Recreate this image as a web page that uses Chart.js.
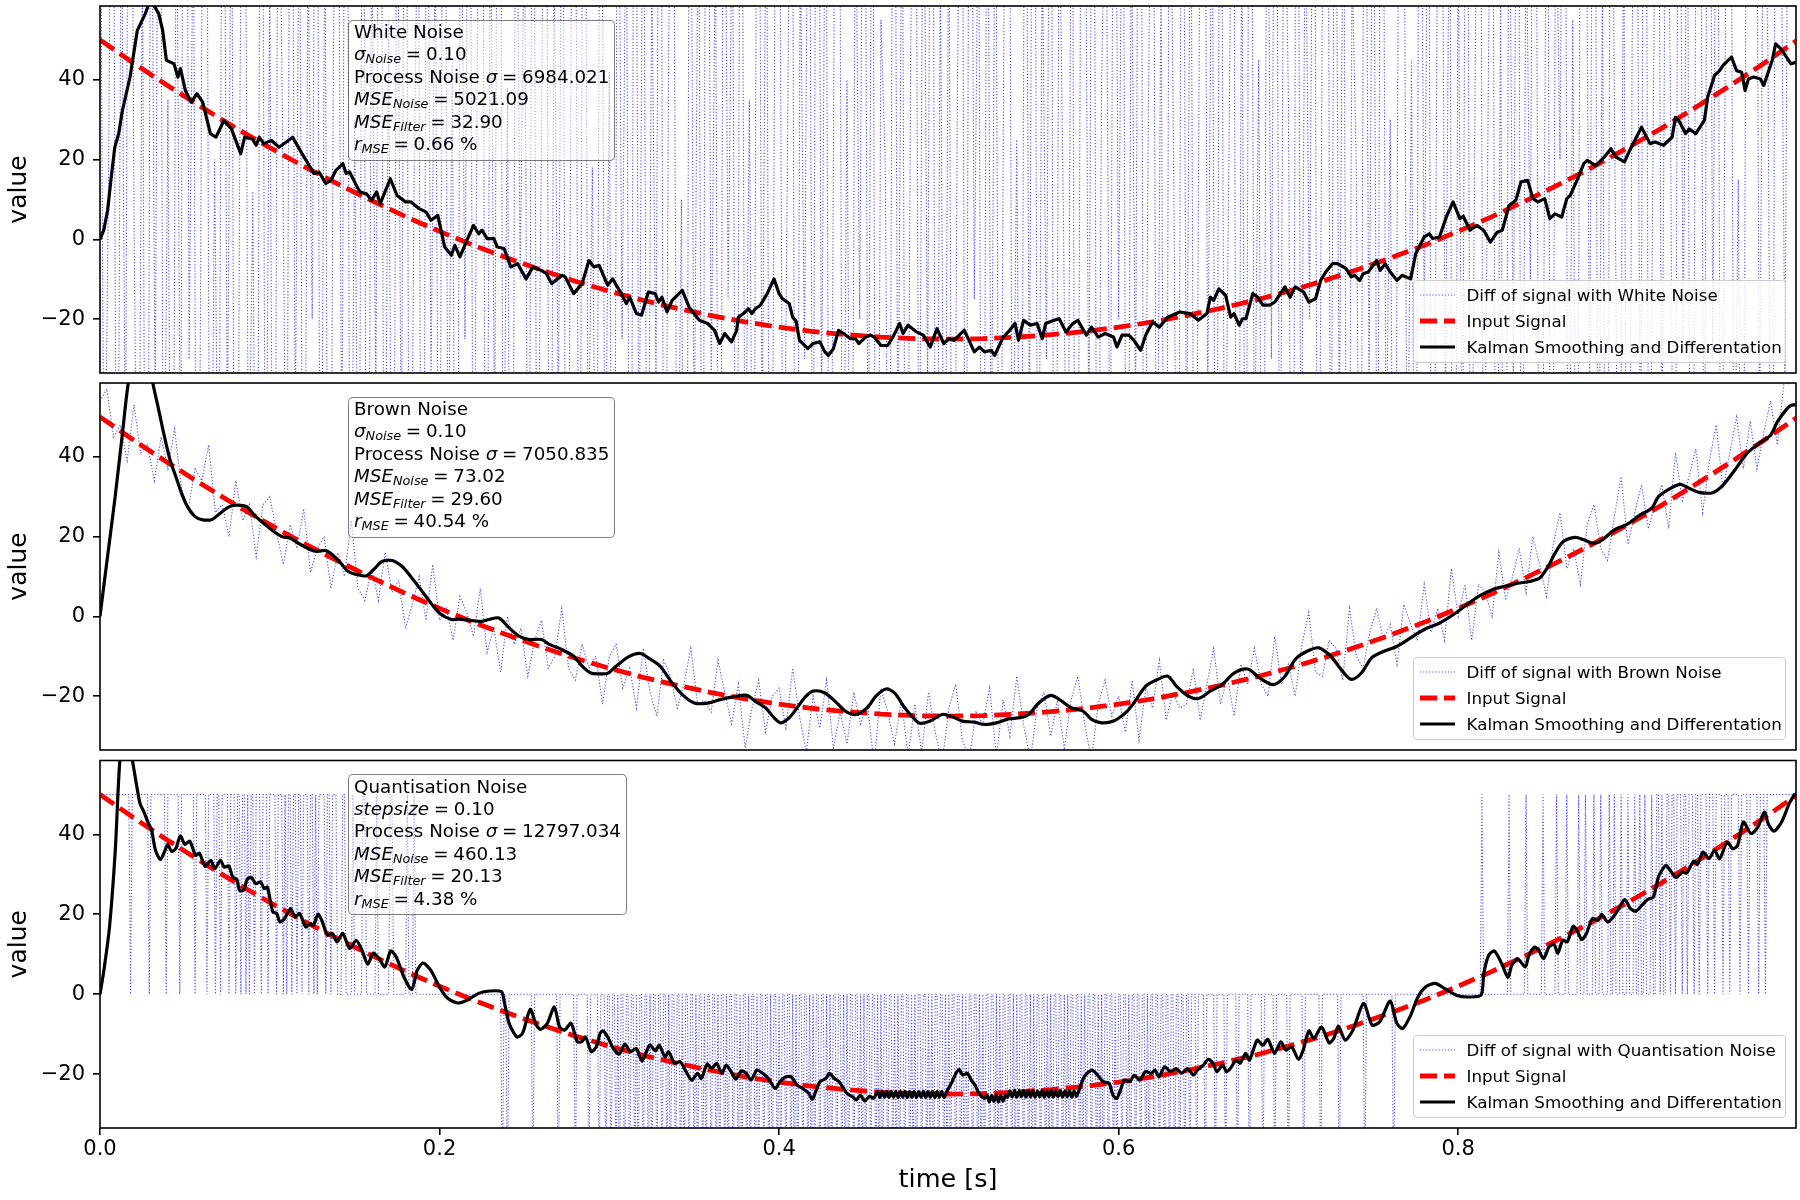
<!DOCTYPE html>
<html>
<head>
<meta charset="utf-8">
<script src="https://cdn.jsdelivr.net/npm/chart.js@4.4.1/dist/chart.umd.min.js"></script>
<style>
  body { margin: 0; background: #fff; }
  #fig { position: relative; width: 1800px; height: 1200px; font-family: 'DejaVu Sans'; color: #000; }
  #fig canvas { position: absolute; left: 0; }
  .info { position: absolute; left: 348px; padding: 0.5px 5px 4.5px 5px; border: 1.4px solid rgba(0,0,0,0.5);
          border-radius: 5px; background: rgba(255,255,255,0.5); font: 18.3px 'DejaVu Sans'; line-height: 22.4px; white-space: nowrap; }
  .info sub { font-size: 70%; line-height: 0; vertical-align: -0.25em; font-style: italic; }
  .info .eq { margin: 0 0.26em; }
  .legend { position: absolute; left: 1413px; width: 373px; height: 83px; box-sizing: border-box; border: 1.5px solid #cccccc;
            border-radius: 4px; background: rgba(255,255,255,0.8); font: 16.7px 'DejaVu Sans'; }
  .legend .row { position: absolute; left: 0; width: 100%; height: 26px; line-height: 26px; white-space: nowrap; }
  .legend svg { position: absolute; left: 4.5px; top: 8px; }
  .legend span { position: absolute; left: 52.5px; }
</style>
</head>
<body>
<div id="fig">
  <canvas id="white" width="1800" height="390" style="top:0px;width:1800px;height:390px"></canvas>
  <canvas id="brown" width="1800" height="390" style="top:377px;width:1800px;height:390px"></canvas>
  <canvas id="quant" width="1800" height="446" style="top:754px;width:1800px;height:446px"></canvas>
</div>
<script>
const timeTicks = [0, 0.2, 0.4, 0.6, 0.8];
const valueTicks = [-20, 0, 20, 40];

const panelTitles = ['White Noise', 'Brown Noise', 'Quantisation Noise'];
const noiseParamLabels = ['<i>σ</i><sub>Noise</sub>', '<i>σ</i><sub>Noise</sub>', '<i>stepsize</i>'];
const noiseParamValues = ['0.10', '0.10', '0.10'];
const processSigmas = ['6984.021', '7050.835', '12797.034'];
const mseNoise = ['5021.09', '73.02', '460.13'];
const mseFilter = ['32.90', '29.60', '20.13'];
const rMse = ['0.66', '40.54', '4.38'];
const diffLabels = ['Diff of signal with White Noise', 'Diff of signal with Brown Noise', 'Diff of signal with Quantisation Noise'];

// input signal, sampled every 0.02 s
const inputStep = 0.02;
const inputSignal = [50, 44.1, 38.5, 33.1, 27.9, 23, 18.3, 13.9, 9.7, 5.7, 2, -1.5, -4.7, -7.7, -10.5, -13, -15.3, -17.3, -19.1, -20.7,
  -22, -23.1, -23.9, -24.5, -24.9, -25, -24.9, -24.5, -23.9, -23.1, -22, -20.7, -19.1, -17.3, -15.3, -13, -10.5, -7.7, -4.7, -1.5,
  2, 5.7, 9.7, 13.9, 18.3, 23, 27.9, 33.1, 38.5, 44.1, 50];

// white noise diff, every 0.0025 s (mostly off the axis)
const whiteStep = 0.0025;
const whiteDiff = [
  120, -85, 14, 160, -140, 95, -60, 210, 8, -110,
  75, -190, 130, -45, 180, -95, 35, -150, 105, -70,
  240, -30, 90, -175, 60, 145, -120, 20, -88, 170,
  -55, 110, -200, 40, 155, -75, 12, -135, 200, -100,
  65, -160, 125, 28, -90, 185, -50, 100, -145, 72,
  -20, 165, -115, 88, -180, 48, 135, -65, 210, -125,
  30, -95, 150, -170, 82, -40, 190, -110, 55, -150,
  118, -62, 175, -135, 15, 98, -190, 140, -35, 80,
  -128, 205, -70, 45, -160, 115, -25, 170, -100, 60,
  150, -140, 92, -55, 230, -85, 38, -175, 125, -10,
  85, -120, 160, -95, 22, 180, -150, 70, -45, 135,
  -180, 55, 110, -130, 200, -60, 18, -105, 165, -80,
  42, -170, 140, -25, 95, -155, 185, -70, 120, -115,
  68, -35, 175, -145, 50, 130, -90, 10, -185, 155,
  -60, 100, -125, 215, -40, 80, -165, 145, -15, 90,
  -140, 170, -75, 35, -120, 190, -55, 105, -160, 60,
  125, -100, 25, 160, -180, 75, -30, 140, -95, 210,
  -45, 115, -150, 65, 180, -110, 40, -135, 95, -20,
  160, -70, 130, -175, 55, 20, -125, 185, -60, 100,
  -150, 45, 170, -90, 120, -40, 200, -145, 70, -105,
  88, -160, 35, 145, -120, 180, -15, 95, -185, 130,
  -65, 110, -140, 60, 175, -80, 25, -130, 150, -50,
  205, -115, 75, -30, 155, -170, 90, 5, -100, 140,
  -190, 60, 125, -55, 185, -135, 40, 100, -75, 165,
  -20, 130, -160, 85, -45, 215, -110, 30, 145, -95,
  70, -180, 120, 15, -135, 175, -60, 105, -150, 50,
  185, -40, 95, -125, 160, -85, 22, 140, -170, 80,
  -110, 200, -65, 45, -145, 125, -30, 170, -95, 110,
  35, -155, 180, -75, 90, -20, 150, -130, 60, 195,
  -90, 140, -50, 110, -175, 70, 18, -120, 165, -40,
  125, -100, 205, -60, 30, -150, 95, 160, -80, 45,
  -135, 185, -25, 120, -165, 55, 140, -45, 100, -190,
  75, -70, 170, -115, 40, 190, -95, 25, 150, -140,
  60, -180, 110, -35, 165, -125, 85, -10, 210, -75,
  -50, 135, -155, 95, 20, 175, -105, 55, -130, 160,
  115, -40, 185, -90, 65, -165, 145, 10, -120, 90,
  -175, 50, 125, -70, 200, -110, 35, 155, -60, 120,
  40, -145, 170, -25, 105, -185, 80, 135, -95, 220,
  -30, 150, -120, 60, 180, -80, 15, -160, 130, 70,
  190, -55, 110, 45, -140, 205, 95, -35, 160, 130
];

// brown noise diff, every 0.004 s
const brownStep = 0.004;
const brownDiff = [
  54, 57, 45, 48, 39, 53, 41, 43, 34, 45,
  37, 47, 32, 27, 37, 34, 43, 26, 28, 20,
  34, 24, 28, 15, 28, 30, 21, 13, 23, 17,
  27, 11, 17, 20, 7, 16, 10, 24, 7, 4,
  12, 4, 16, 6, 9, -3, 3, 10, -1, 13,
  -1, 2, -6, 5, 1, -5, 7, -9, -3, -14,
  0, -7, -3, -15, -6, -1, -13, -10, 2, -13,
  -16, -7, -13, -10, -22, -10, -7, -18, -13, -23,
  -8, -19, -25, -11, -15, -23, -17, -8, -22, -21,
  -24, -11, -19, -27, -17, -33, -23, -16, -29, -20,
  -18, -28, -13, -25, -34, -20, -28, -16, -33, -24,
  -32, -19, -27, -22, -37, -18, -24, -32, -21, -35,
  -22, -34, -19, -29, -37, -23, -17, -31, -36, -24,
  -27, -18, -35, -21, -30, -15, -27, -36, -23, -19,
  -30, -21, -33, -21, -15, -27, -36, -22, -16, -25,
  -20, -29, -16, -31, -18, -23, -11, -26, -19, -23,
  -22, -13, -26, -17, -8, -22, -15, -25, -12, -17,
  -8, -17, -20, -5, -17, -12, -20, -7, 1, -14,
  -15, -6, -8, -16, 2, -10, -13, -4, 2, -6,
  -2, -12, 3, -2, -6, 8, -4, 2, -6, 12,
  0, 8, -6, 8, 6, 0, 16, 4, 10, 17,
  6, 20, 13, 5, 18, 26, 12, 17, 8, 23,
  28, 17, 14, 25, 35, 18, 26, 33, 22, 28,
  33, 22, 41, 29, 35, 42, 26, 39, 48, 32,
  41, 50, 37, 49, 37, 46, 54, 43, 59, 58
];

// quantisation noise diff, one level per ms, written as runs (H=50, Z=0, L=-50, digit = run length)
const quantStep = 0.001;
const quantLevel = { H: 50, Z: 0, L: -50 };
const quantRuns = [
  'H18 Z H10 Z H9 Z H7 Z H8 Z H6 Z H4 Z H2 Z H4 Z H3 Z H2 Z H2 Z H Z H2 Z H3 Z H3 Z H4 Z H3 Z H Z H2 Z H2 Z H2 Z H3 Z H2 Z H Z H4 Z H2 Z H3',
  'Z3 H2 Z4 H Z5 H2 Z6 H Z7 H2 Z8 H Z3 H',
  'Z51',
  'L Z2 L Z14 L Z14 L Z9 L Z7 L Z5 L Z3',
  'L Z2 L Z2 L Z L Z2 L Z2 L Z2 L Z L Z2 L Z2 L Z',
  'L Z2 L Z2 L Z2 L Z L Z2 L Z2 L Z L Z2 L Z2 L Z',
  'L Z2 L Z L Z2 L Z2 L Z L Z2 L Z L Z2 L Z2 L Z',
  'L Z2 L Z L Z2 L Z L Z2 L Z2 L Z L Z2',
  'L Z L Z2 L Z2 L Z L Z L Z2 L Z2 L Z', 'L Z L Z2 L Z2 L Z L Z L Z2 L Z2 L Z',
  'L Z L Z2 L Z2 L Z L Z L Z2 L Z2 L Z', 'L Z L Z2 L Z2 L Z L Z L Z2 L Z2 L Z',
  'L Z L Z2 L Z2 L Z L Z L Z2 L Z2 L Z', 'L Z L Z2 L Z2 L Z L Z L Z2 L Z2 L Z',
  'L Z L Z2 L Z2 L Z L Z L Z2 L Z2 L Z', 'L Z L Z2 L Z2 L Z L Z L Z2 L Z2 L Z',
  'L Z L Z2 L Z2 L Z L Z L Z2 L Z2 L Z', 'L Z L Z2 L Z2 L Z L Z L Z2 L Z2 L Z',
  'L Z2 L Z2 L Z L Z2 L Z2 L Z2 L Z L Z2 L Z2 L Z2 L Z2 L Z2 L Z2 L Z2 L Z2 L Z3',
  'L Z4 L Z5 L Z5 L Z6 L Z6 L Z7 L Z6 L Z7 L Z8 L Z9 L Z10 L Z14 L Z16 L',
  'Z50',
  'Z H Z15 H Z9 H Z9 H Z7 H Z5 H Z6 H Z3 H Z4 H Z3 H Z4 H Z2 H Z3 H Z3 H Z3 H Z2 H Z2 H Z3',
  'H Z2 H2 Z H Z2 H2 Z H2 Z H3 Z H2 Z H3 Z H2 Z H4 Z H3 Z H4 Z H3 Z H5 Z H4 Z H5 Z H3 Z H18'
];

// Kalman smoothing outputs, [time, value]
const whiteKalman = [[0,0],[.0022,2.3],[.0045,7.3],[.0064,14.8],[.0087,23.1],[.011,26.5],[.0132,32.3],[.0177,40.7],[.022,52.4],[.0267,56.6],[.029,59.3],[.0312,59],[.0346,56.6],[.0369,52.4],[.0391,44.9],[.0436,44],[.0459,40.7],[.0474,42.8],[.0503,37.3],[.0537,34.4],[.0571,36.5],[.0605,34.4],[.065,26.5],[.0683,25.6],[.073,29.8],[.0774,27.7],[.0829,21.5],[.0852,25.6],[.0897,25.2],[.092,23.6],[.0938,25.6],[.0965,24],[.101,24.8],[.1055,23.1],[.1135,25.6],[.119,21.5],[.126,16.5],[.129,16.9],[.133,14],[.136,14.8],[.139,17.3],[.143,19],[.145,16.5],[.147,16.9],[.153,11.9],[.157,11.4],[.16,9.8],[.163,11.9],[.165,8.9],[.171,15.2],[.175,11],[.18,9.4],[.183,9.4],[.188,7.7],[.192,6.9],[.195,4.8],[.199,6],[.203,-1.9],[.207,-4],[.209,-1.5],[.212,-4.4],[.217,0.6],[.22,3.5],[.223,1.4],[.225,2.3],[.228,0.2],[.232,0.2],[.234,-1.9],[.238,-2.3],[.242,-6.9],[.246,-6.1],[.251,-9.9],[.255,-6.9],[.26,-7.8],[.263,-8.6],[.266,-11.1],[.272,-9],[.274,-9.4],[.279,-13.6],[.284,-11.1],[.288,-5.3],[.291,-6.9],[.294,-6.5],[.299,-11.5],[.302,-9.9],[.307,-13.6],[.31,-16.1],[.312,-14.5],[.316,-18.6],[.319,-19],[.323,-13.2],[.327,-13.6],[.329,-15.7],[.331,-14.5],[.334,-18.2],[.337,-15.3],[.343,-12.8],[.347,-17],[.353,-20.3],[.358,-21.1],[.362,-22.8],[.365,-26.1],[.368,-23.6],[.372,-25.7],[.375,-22.8],[.376,-19.5],[.379,-18.6],[.382,-17.4],[.384,-18.6],[.386,-17.4],[.389,-16.5],[.393,-13.6],[.397,-9.9],[.4,-13.6],[.402,-14.9],[.406,-16.1],[.408,-19.5],[.41,-20.5],[.412,-25.3],[.417,-27.4],[.42,-26.1],[.424,-25.7],[.427,-28.2],[.429,-29.1],[.432,-27.4],[.435,-22.8],[.438,-23.6],[.442,-24.9],[.445,-24.9],[.447,-26.1],[.451,-24.5],[.454,-24],[.456,-24.5],[.46,-26.6],[.464,-26.6],[.467,-24.5],[.471,-21.1],[.473,-23.6],[.476,-21.5],[.481,-23.2],[.485,-24],[.489,-27],[.493,-22.4],[.497,-26.1],[.5,-24.9],[.503,-25.3],[.509,-22.8],[.511,-24.5],[.515,-28.2],[.518,-27],[.521,-28.2],[.525,-27.8],[.527,-29.1],[.532,-24.5],[.535,-23.2],[.539,-21.1],[.541,-25.3],[.544,-20.3],[.548,-21.5],[.552,-21.1],[.555,-24.9],[.557,-21.1],[.562,-20.3],[.565,-19.9],[.569,-23.2],[.573,-21.1],[.576,-20.3],[.581,-24],[.584,-22],[.588,-24.5],[.592,-23.6],[.597,-24.5],[.599,-27],[.602,-24],[.606,-24],[.609,-25.3],[.613,-27.8],[.616,-24],[.62,-20.7],[.624,-22],[.629,-19.5],[.636,-18.2],[.642,-18.6],[.647,-20.3],[.652,-18.6],[.654,-14.5],[.656,-15.3],[.659,-12.4],[.663,-14],[.666,-19.5],[.668,-18.6],[.671,-21.5],[.673,-19.9],[.675,-19.9],[.679,-13.6],[.682,-14.5],[.685,-16.5],[.689,-16.5],[.692,-15.7],[.698,-11.9],[.701,-14.5],[.704,-11.9],[.709,-13.2],[.712,-15.7],[.716,-14.9],[.719,-10.3],[.722,-8.2],[.726,-6.1],[.729,-6.1],[.734,-7.3],[.737,-9.4],[.739,-9],[.742,-10.3],[.744,-8.6],[.747,-8.2],[.752,-5.3],[.754,-7.8],[.757,-6.1],[.76,-8.2],[.764,-10.3],[.767,-9],[.772,-9.9],[.775,-3.6],[.78,0.6],[.783,1.4],[.785,0.2],[.789,0.6],[.793,5.6],[.797,9.4],[.801,5.2],[.803,5.8],[.807,2.3],[.811,3.5],[.815,2.3],[.819,-0.7],[.823,1.8],[.826,2.3],[.83,8.5],[.834,9.8],[.837,14.4],[.841,14.8],[.844,10.2],[.847,9.4],[.851,10.2],[.854,5.2],[.857,6.4],[.861,5.6],[.864,10.2],[.866,11],[.87,14.8],[.874,19],[.876,19.8],[.881,18.5],[.886,20.6],[.89,22.7],[.893,20.6],[.898,19.4],[.901,22.3],[.908,28.1],[.913,24],[.916,24.4],[.921,23.6],[.926,25.6],[.928,30.6],[.93,29.8],[.934,26.5],[.936,27.7],[.94,26.5],[.945,29.8],[.947,35.7],[.951,41.1],[.954,42.3],[.956,43.6],[.961,45.7],[.964,42.3],[.967,41.9],[.969,37.3],[.971,40.2],[.974,40.7],[.978,40.2],[.98,38.6],[.982,41.1],[.985,44.9],[.987,49],[.99,47.8],[.994,45.3],[.996,44],[.999,44.4]];

const brownKalman = [[0,0],[.0042,14.2],[.0087,29.2],[.0132,45.8],[.0166,58.3],[.02,65],[.024,69],[.028,66],[.0312,58.3],[.0346,51.7],[.038,45],[.0413,39.2],[.0447,35],[.0481,30.8],[.0515,27.5],[.056,25],[.0605,24.2],[.066,24.3],[.0706,25.8],[.0762,27.5],[.0807,27.9],[.0864,27.5],[.0909,25.4],[.0965,23.3],[.101,21.7],[.107,20],[.112,19.6],[.117,18.3],[.124,16.7],[.128,16.3],[.133,16.5],[.137,15.4],[.142,13.3],[.146,11.3],[.152,10.4],[.157,10.2],[.162,12.1],[.166,13.75],[.172,14],[.178,12.5],[.183,10],[.189,6.7],[.195,3.3],[.2,0.8],[.207,-0.8],[.211,-0.7],[.218,-1],[.225,-1.25],[.229,-0.8],[.235,-0.4],[.241,-2.9],[.247,-5],[.253,-5.8],[.26,-5.8],[.265,-7.1],[.272,-8.3],[.279,-10],[.284,-12.5],[.289,-14.2],[.294,-14.4],[.299,-14.3],[.304,-12.5],[.311,-10.2],[.318,-9.3],[.323,-10.4],[.33,-12.5],[.337,-16.7],[.344,-20],[.35,-21.7],[.357,-21.8],[.366,-20.8],[.375,-20],[.381,-19.8],[.386,-21.3],[.392,-22.9],[.397,-25.4],[.401,-26.7],[.406,-25.4],[.41,-23.3],[.415,-20.4],[.42,-18.75],[.427,-19.2],[.434,-21.7],[.439,-23.75],[.445,-24.6],[.452,-22.9],[.457,-20],[.463,-18.2],[.468,-19.2],[.474,-22.9],[.479,-25.4],[.483,-26.8],[.489,-26.25],[.496,-24.6],[.501,-25],[.508,-26.25],[.515,-26.5],[.521,-27.1],[.528,-26.7],[.535,-25.7],[.542,-25.4],[.547,-24.6],[.553,-21.7],[.56,-19.8],[.565,-20.8],[.572,-22.9],[.579,-23.75],[.584,-25.8],[.59,-26.7],[.597,-26.25],[.604,-24.2],[.609,-21.7],[.616,-17.5],[.623,-15.8],[.629,-15],[.634,-17.5],[.641,-20],[.647,-20.6],[.654,-18.75],[.661,-17.1],[.668,-14.2],[.676,-13.2],[.683,-15.4],[.691,-17.1],[.698,-15],[.704,-10.8],[.711,-8.75],[.718,-7.9],[.725,-10],[.731,-13.3],[.737,-15.8],[.743,-14.2],[.749,-10.4],[.755,-9],[.764,-7.5],[.772,-5.4],[.78,-3.3],[.789,-1.7],[.797,0.4],[.805,2.9],[.812,5],[.82,6.7],[.827,7.5],[.835,8.3],[.842,8.75],[.848,9.6],[.853,12.5],[.857,15.8],[.862,18.75],[.869,19.8],[.874,19.2],[.88,18.3],[.885,19.2],[.892,21.7],[.9,23.2],[.907,25.4],[.914,27.1],[.918,30],[.925,32.1],[.931,33.1],[.936,32.1],[.942,31.1],[.95,31],[.956,32.9],[.963,36.7],[.97,40.8],[.977,43.3],[.984,45.4],[.988,48.75],[.993,51.7],[.996,52.9],[.999,53]];

const quantKalman = [[0,0],[.0023,6],[.0056,16.8],[.009,36],[.0117,58.5],[.0145,65],[.0175,62],[.0191,58.5],[.0214,52.7],[.0236,47.7],[.0259,45.6],[.0282,43.1],[.0304,41],[.0327,36],[.0356,33.7],[.0383,36],[.0399,37.5],[.0421,35.75],[.0446,36.4],[.0473,39.6],[.05,37.5],[.0529,38.3],[.0563,34.75],[.0586,35.3],[.0619,32],[.0653,33.5],[.0676,31.4],[.0709,33.5],[.0732,31.8],[.0759,32.1],[.0782,29.3],[.0806,28.7],[.0822,26],[.0845,26],[.0867,28.7],[.089,29.3],[.0917,27.7],[.0946,28.1],[.0968,26.4],[.0986,26.8],[.1018,20.6],[.1041,20.2],[.1059,18.1],[.1086,18.9],[.1122,21.4],[.1149,19.3],[.1176,20.2],[.1212,16.8],[.1239,17.7],[.1257,17.25],[.1284,20],[.1306,18.5],[.134,14.75],[.1369,15.2],[.1396,13.1],[.143,15.2],[.1471,11.4],[.1509,13.5],[.1543,11],[.1577,7.5],[.161,10.3],[.1644,8.9],[.1678,6.8],[.1712,10.8],[.1745,9.3],[.179,4.3],[.1836,1.2],[.1869,6],[.1903,7.8],[.1948,6],[.2005,1.4],[.205,-1.1],[.2106,-2.2],[.2162,-1.5],[.223,0.2],[.2297,0.8],[.2365,0.6],[.2383,-2.3],[.241,-7.3],[.2455,-10.7],[.2489,-9.8],[.2534,-3.8],[.2568,-7.5],[.2595,-8.8],[.2635,-7.3],[.2676,-3.2],[.2707,-8.2],[.2736,-9],[.2775,-7.3],[.2811,-11.9],[.2838,-11.9],[.286,-10.7],[.2894,-14.4],[.2923,-13.2],[.2946,-9.8],[.2963,-9.2],[.299,-10.7],[.3024,-13.6],[.3058,-15],[.3091,-12.5],[.3125,-14.4],[.3159,-13.6],[.3193,-16.7],[.3238,-12.75],[.3272,-14.2],[.3294,-12.75],[.3328,-15.7],[.335,-14.4],[.3384,-17.3],[.3418,-16.9],[.3452,-19.4],[.3486,-21.5],[.352,-19.8],[.3542,-21.1],[.3576,-17.5],[.3603,-18.6],[.3632,-17.3],[.3662,-19.8],[.3689,-17.75],[.3723,-19.8],[.3745,-21.3],[.3779,-19.2],[.3806,-19.8],[.3835,-21.5],[.3869,-19],[.3903,-19.8],[.3937,-21.1],[.3977,-23.6],[.4005,-21.9],[.4038,-20.7],[.4072,-20.7],[.4106,-22.75],[.414,-23.6],[.4174,-24.8],[.4196,-26.3],[.4219,-24],[.4241,-21.9],[.4275,-21.1],[.4298,-19.8],[.4325,-21.1],[.4354,-21.9],[.4399,-24.8],[.4433,-25.7],[.4455,-26.5],[.4478,-25.25],[.4505,-26.7],[.4534,-25.5],[.4557,-26.1],[.458,-24.4],[.4594,-25.9],[.4607,-24.3],[.4621,-25.8],[.4634,-24.3],[.4648,-25.9],[.4661,-24.4],[.4675,-25.8],[.4688,-24.3],[.4702,-25.9],[.4715,-24.4],[.4729,-25.8],[.4742,-24.3],[.4756,-25.9],[.4769,-24.4],[.4783,-25.8],[.4796,-24.3],[.481,-25.9],[.4823,-24.4],[.4837,-25.8],[.485,-24.3],[.4864,-25.9],[.4877,-24.4],[.4891,-25.8],[.4904,-24.3],[.4918,-25.9],[.4931,-24.4],[.4945,-25.8],[.4958,-24.3],[.4972,-25.9],[.4985,-24.6],[.5015,-22.3],[.5042,-19.8],[.506,-18.8],[.5082,-20.25],[.5109,-19.8],[.5132,-21.5],[.5154,-22.75],[.5177,-24.8],[.5211,-26.1],[.5225,-25.2],[.5238,-27],[.5252,-25.3],[.5265,-26.9],[.5279,-25.2],[.5292,-27],[.5306,-25.4],[.5319,-26.8],[.5333,-25.3],[.5346,-25.8],[.536,-24.2],[.5373,-25.7],[.5387,-24.1],[.54,-25.8],[.5414,-24.2],[.5427,-25.7],[.5441,-24.1],[.5454,-25.8],[.5468,-24.2],[.5481,-25.7],[.5495,-24.1],[.5508,-25.8],[.5522,-24.2],[.5535,-25.7],[.5549,-24.1],[.5562,-25.8],[.5576,-24.2],[.5589,-25.7],[.5603,-24.1],[.5616,-25.8],[.563,-24.2],[.5643,-25.7],[.5657,-24.1],[.567,-25.8],[.5684,-24.2],[.5697,-25.7],[.5711,-24.1],[.5724,-25.8],[.5738,-24.2],[.5751,-25.6],[.5763,-24.5],[.5797,-20.7],[.5842,-19],[.5876,-20.25],[.591,-21.9],[.5944,-22.3],[.5966,-25.25],[.5989,-26.1],[.6011,-24],[.6034,-21.5],[.6068,-21.9],[.6091,-20.25],[.6124,-21.5],[.6158,-19.4],[.6192,-19.8],[.6215,-19],[.6237,-20.7],[.6271,-18.2],[.6305,-19.4],[.6338,-18.6],[.6372,-19.8],[.6406,-18.6],[.644,-20.25],[.6463,-19],[.648,-18.4],[.65,-17.75],[.6528,-16.3],[.6556,-17.3],[.6579,-19.4],[.6613,-17.75],[.6635,-19.4],[.6658,-18.6],[.6692,-16.5],[.6715,-17.3],[.6749,-14.8],[.6771,-16.5],[.6816,-11.5],[.6849,-12.75],[.6879,-11.3],[.6918,-14.8],[.6956,-11.9],[.6985,-14],[.7019,-13.2],[.706,-16.3],[.7087,-14],[.7121,-9.2],[.715,-11.1],[.7195,-8.2],[.724,-12.2],[.7267,-11.1],[.7294,-8],[.7335,-11.5],[.738,-9],[.7443,-2.3],[.7493,-7.75],[.7538,-6.9],[.7599,-1.75],[.7639,-7.3],[.7673,-8.6],[.7718,-5.5],[.7763,-0.7],[.7808,1.8],[.7865,2.7],[.7921,1.4],[.7989,-0.25],[.8056,-0.7],[.8135,-0.25],[.8151,5.2],[.818,9.75],[.8214,10.8],[.8255,7.8],[.8293,4.2],[.8316,7.25],[.835,8.9],[.8395,6.8],[.8417,9.75],[.8451,11.8],[.8474,11],[.8503,8.9],[.8535,11.8],[.8564,12.5],[.8587,10.3],[.8616,13.5],[.8643,13.1],[.8677,17],[.87,16],[.8727,13.7],[.8756,15.2],[.879,18.9],[.8823,18.5],[.8846,20],[.888,18.1],[.8913,19.3],[.894,21],[.8981,23.7],[.9015,21.4],[.9048,20.8],[.9082,22.25],[.9116,23.7],[.915,24.3],[.9179,29.3],[.9206,31.4],[.9224,32.25],[.9256,30.6],[.9285,29.2],[.9319,30.6],[.9346,30.3],[.9387,33.3],[.9409,32.5],[.9443,35.6],[.9477,33.9],[.951,36],[.954,33.9],[.9585,38.1],[.9617,36.4],[.9646,37.25],[.968,43.1],[.9725,40.2],[.9765,41.8],[.9804,45.6],[.9826,42.7],[.986,40.8],[.9905,43.1],[.995,47.7],[.9984,50.2]];

const onGrid = (values, step) => values.map((v, i) => ({ x: i * step, y: v }));
const fromPairs = pairs => pairs.map(p => ({ x: p[0], y: p[1] }));
const fromRuns = runs => {
  const out = [];
  runs.join(' ').trim().split(/\s+/).forEach(tok => {
    const n = tok.length > 1 ? Number(tok.slice(1)) : 1;
    for (let k = 0; k < n; k++) out.push(quantLevel[tok[0]]);
  });
  return out;
};

Chart.defaults.font.family = "'DejaVu Sans'";
Chart.defaults.color = '#000';

const framePlugin = {
  id: 'frame',
  afterDatasetsDraw(chart) {
    const { ctx, chartArea: a } = chart;
    ctx.save();
    ctx.strokeStyle = '#000';
    ctx.lineWidth = 1.6;
    ctx.strokeRect(a.left, a.top, a.right - a.left, a.bottom - a.top);
    ctx.restore();
  }
};

const tickGrid = drawTicks => ({ drawOnChartArea: false, drawTicks: drawTicks, tickLength: 7, lineWidth: 1.6, tickWidth: 1.6, color: '#000', tickColor: '#000' });
const minus = v => (v < 0 ? '\u2212' + Math.abs(v) : String(v));

const addPanel = (id, diffData, kalmanData, tension, padTop, showTime) => {
  new Chart(document.getElementById(id), {
    type: 'line',
    data: {
      datasets: [
        { label: 'Kalman Smoothing and Differentation', data: kalmanData, borderColor: '#000', borderWidth: 3.2,
          pointRadius: 0, tension: tension, borderJoinStyle: 'round', order: 0 },
        { label: 'Input Signal', data: onGrid(inputSignal, inputStep), borderColor: '#ff0000', borderWidth: 4.8,
          borderDash: [17, 7], pointRadius: 0, order: 1 },
        { label: 'Diff', data: diffData, borderColor: 'rgba(0,0,255,0.7)', borderWidth: 1.1,
          borderDash: [1.2, 1.9], pointRadius: 0, order: 2 }
      ]
    },
    options: {
      responsive: false,
      animation: false,
      parsing: false,
      layout: { padding: { top: padTop, right: 4, left: 0, bottom: 0 } },
      plugins: { legend: { display: false }, tooltip: { enabled: false } },
      scales: {
        x: {
          type: 'linear', min: 0, max: 0.999,
          afterBuildTicks: s => { s.ticks = timeTicks.map(v => ({ value: v })); },
          afterFit: s => { s.height = showTime ? 72 : 17; s.paddingLeft = 0; s.paddingRight = 0; },
          grid: tickGrid(showTime), border: { display: false },
          ticks: { display: showTime, autoSkip: false, maxRotation: 0, padding: 2, font: { size: 21 },
                   callback: v => Number(v).toFixed(1) },
          title: { display: showTime, text: 'time [s]', font: { size: 25.5 }, padding: { top: 0, bottom: 4 } }
        },
        y: {
          type: 'linear', min: -33.5, max: 58.5,
          afterBuildTicks: s => { s.ticks = valueTicks.map(v => ({ value: v })); },
          afterFit: s => { s.width = 100; s.paddingTop = 0; s.paddingBottom = 0; },
          grid: tickGrid(true), border: { display: false },
          ticks: { autoSkip: false, padding: 8, font: { size: 21 }, callback: v => minus(v) },
          title: { display: true, text: 'value', font: { size: 25 }, padding: { top: 4, bottom: 0 } }
        }
      }
    },
    plugins: [framePlugin]
  });
};

addPanel('white', onGrid(whiteDiff, whiteStep), fromPairs(whiteKalman), 0, 6, false);
addPanel('brown', onGrid(brownDiff, brownStep), fromPairs(brownKalman), 0.3, 6, false);
addPanel('quant', onGrid(fromRuns(quantRuns), quantStep), fromPairs(quantKalman), 0.25, 6.5, true);

// text boxes and legends
const fig = document.getElementById('fig');
const panelTops = [6, 383, 760.5];
const panelBottoms = [373, 750, 1128];
const eq = '<span class="eq">=</span>';
const handleSvg = kind => {
  if (kind === 'diff') return '<svg width="36" height="10"><line x1="1" y1="5" x2="36" y2="5" stroke="rgba(0,0,255,0.7)" stroke-width="1.2" stroke-dasharray="1.2 1.9"/></svg>';
  if (kind === 'input') return '<svg width="36" height="10"><line x1="1" y1="5" x2="36" y2="5" stroke="#ff0000" stroke-width="4.8" stroke-dasharray="17 7"/></svg>';
  return '<svg width="36" height="10"><line x1="1" y1="5" x2="36" y2="5" stroke="#000" stroke-width="3.2"/></svg>';
};
panelTitles.forEach((title, i) => {
  const box = document.createElement('div');
  box.className = 'info';
  box.style.top = (panelTops[i] + 13.5) + 'px';
  box.innerHTML = [
    title,
    noiseParamLabels[i] + eq + noiseParamValues[i],
    'Process Noise <i>σ</i>' + eq + processSigmas[i],
    '<i>MSE</i><sub>Noise</sub>' + eq + mseNoise[i],
    '<i>MSE</i><sub>Filter</sub>' + eq + mseFilter[i],
    '<i>r</i><sub>MSE</sub>' + eq + rMse[i] + ' %'
  ].map(s => '<div>' + s + '</div>').join('');
  fig.appendChild(box);

  const lg = document.createElement('div');
  lg.className = 'legend';
  lg.style.top = (panelBottoms[i] - 10 - 83) + 'px';
  const rows = [['diff', diffLabels[i]], ['input', 'Input Signal'], ['kalman', 'Kalman Smoothing and Differentation']];
  lg.innerHTML = rows.map((r, k) =>
    '<div class="row" style="top:' + (0.5 + k * 26) + 'px">' + handleSvg(r[0]) + '<span>' + r[1] + '</span></div>').join('');
  fig.appendChild(lg);
});
</script>
</body>
</html>
